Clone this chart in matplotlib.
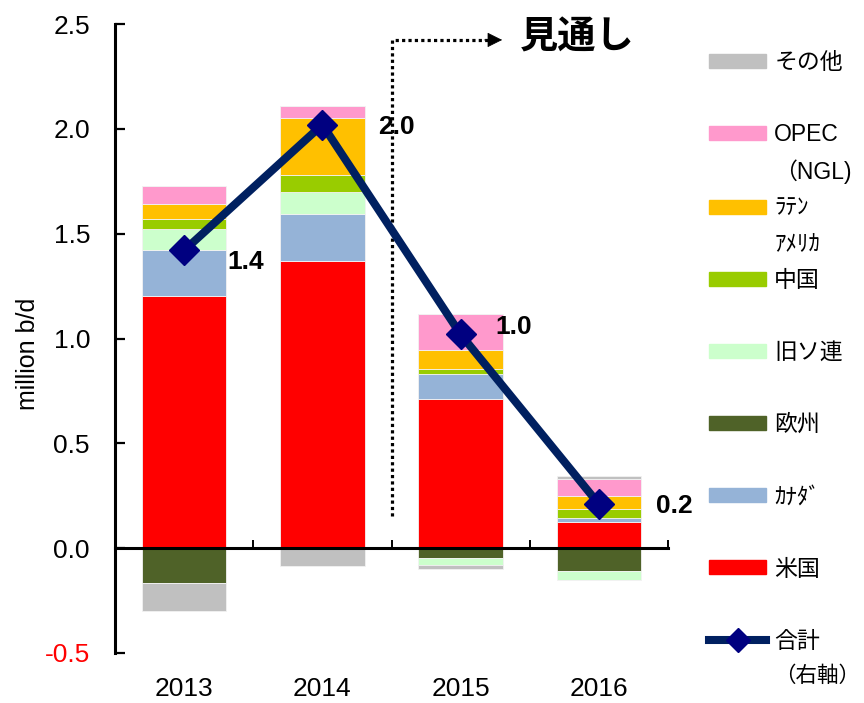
import matplotlib
matplotlib.use("Agg")
import matplotlib.pyplot as plt
from matplotlib.patches import Patch
from matplotlib.lines import Line2D
import numpy as np

plt.rcParams['font.family'] = ['Liberation Sans', 'Noto Sans CJK JP', 'DejaVu Sans']

# ---- data ----
years = ["2013", "2014", "2015", "2016"]
us      = [1.205, 1.369, 0.710, 0.124]   # 米国
canada  = [0.215, 0.225, 0.122, 0.021]   # ｶﾅﾀﾞ
europe  = [-0.168, 0.0, -0.048, -0.108]  # 欧州
fsu     = [0.104, 0.104, -0.030, -0.043] # 旧ソ連
china   = [0.047, 0.080, 0.021, 0.041]   # 中国
latam   = [0.072, 0.276, 0.092, 0.062]   # ﾗﾃﾝｱﾒﾘｶ
opec    = [0.082, 0.054, 0.174, 0.083]   # OPEC (NGL)
other   = [-0.133, -0.087, -0.021, 0.011] # その他
total   = [1.42, 2.02, 1.02, 0.21]       # 合計
total_labels = ["1.4", "2.0", "1.0", "0.2"]

series_names = ["米国", "ｶﾅﾀﾞ", "欧州", "旧ソ連", "中国", "ﾗﾃﾝｱﾒﾘｶ", "OPEC（NGL)", "その他"]
series_vals = [us, canada, europe, fsu, china, latam, opec, other]
colors = ["#FF0000", "#95B3D7", "#4F6228", "#CCFFCC", "#99CC00", "#FFC000", "#FF99CC", "#C0C0C0"]

yticks = [-0.5, 0.0, 0.5, 1.0, 1.5, 2.0, 2.5]

# ---- figure ----
fig = plt.figure(figsize=(8.64, 7.03), dpi=100)
ax = fig.add_axes([115/864, 1-653/703, 553/864, 629/703])

x = np.arange(len(years))
pos_base = np.zeros(len(years))
neg_base = np.zeros(len(years))
for vals, c in zip(series_vals, colors):
    v = np.array(vals, dtype=float)
    pv = np.where(v > 0, v, 0.0)
    nv = np.where(v < 0, v, 0.0)
    ax.bar(x, pv, bottom=pos_base, width=0.61, color=c, edgecolor='#f2f2f2', linewidth=0.6, zorder=2)
    ax.bar(x, nv, bottom=neg_base, width=0.61, color=c, edgecolor='#f2f2f2', linewidth=0.6, zorder=2)
    pos_base += pv
    neg_base += nv

ax.plot(x, total, color='#002060', lw=5.8, marker='D', ms=15,
        mfc='#000080', mec='#000080', zorder=5, solid_capstyle='butt')

label_offsets = [(31, -8), (40, -2), (25, 5), (41, -1.5)]
for xi, yi, t, off in zip(x, total, total_labels, label_offsets):
    ax.annotate(t, (xi, yi), xytext=off, textcoords='offset points',
                ha='left', va='center', fontsize=19, fontweight='bold', zorder=6)

# forecast marker (dotted line + arrow + text)
ax.plot([1.5, 1.5, 2.2], [0.155, 2.424, 2.424], color='k', lw=2.3,
        linestyle=(0, (1, 1)), dash_capstyle='butt', zorder=3)
ax.annotate('', xy=(2.30, 2.424), xytext=(2.17, 2.424),
            arrowprops=dict(arrowstyle='-|>', color='k', lw=0.5, mutation_scale=24,
                            shrinkA=0, shrinkB=0), zorder=3)
ax.text(2.43, 2.43, "見通し", fontsize=27.5, fontweight='bold', ha='left', va='center')

# axes
ax.set_xlim(-0.5, 3.5)
ax.set_ylim(-0.5, 2.5)
ax.set_yticks(yticks)
ax.set_yticklabels([f"{v:.1f}" for v in yticks])
ax.tick_params(axis='y', direction='in', length=7, width=1.6, labelsize=19, pad=18)
for lab, v in zip(ax.get_yticklabels(), yticks):
    if v < 0:
        lab.set_color('#FF0000')
ax.spines['left'].set_linewidth(2.2)
for s in ['top', 'right']:
    ax.spines[s].set_visible(False)

# zero line axis (category boundaries)
ax.spines['bottom'].set_position(('data', 0))
ax.spines['bottom'].set_linewidth(2.2)
ax.spines['bottom'].set_zorder(4)
ax.set_xticks([0.5, 1.5, 2.5, 3.5])
ax.set_xticklabels([])
ax.tick_params(axis='x', direction='in', length=6, width=1.4)

sec = ax.secondary_xaxis('bottom')
sec.set_xticks(x)
sec.set_xticklabels(years)
sec.tick_params(axis='x', length=0, labelsize=19, pad=17)
sec.spines['bottom'].set_visible(False)

ax.set_ylabel("million b/d", fontsize=18)
ax.yaxis.set_label_coords(-0.136, 0.475)

# legend
blank = Patch(facecolor='none', edgecolor='none')
handles = [Patch(color=colors[7]), blank,
           Patch(color=colors[6]), blank,
           Patch(color=colors[5]), blank,
           Patch(color=colors[4]), blank,
           Patch(color=colors[3]), blank,
           Patch(color=colors[2]), blank,
           Patch(color=colors[1]), blank,
           Patch(color=colors[0]), blank,
           Line2D([], [], color='#002060', lw=5.8, marker='D', ms=12,
                  mfc='#000080', mec='#000080'), blank]
labels = ["その他", " ", "OPEC", "（NGL)", "ﾗﾃﾝ", "ｱﾒﾘｶ", "中国", " ",
          "旧ソ連", " ", "欧州", " ", "ｶﾅﾀﾞ", " ", "米国", " ", "合計", "（右軸）"]
leg = fig.legend(handles, labels, loc='upper left', bbox_to_anchor=(709/864, 1-51/703),
                 frameon=False, fontsize=16.5, handlelength=2.5, handleheight=0.55,
                 handletextpad=0.35, labelspacing=0.57, borderpad=0, borderaxespad=0)
leg.get_texts()[-1].set_fontsize(15.5)

fig.savefig("out.png", dpi=100)
